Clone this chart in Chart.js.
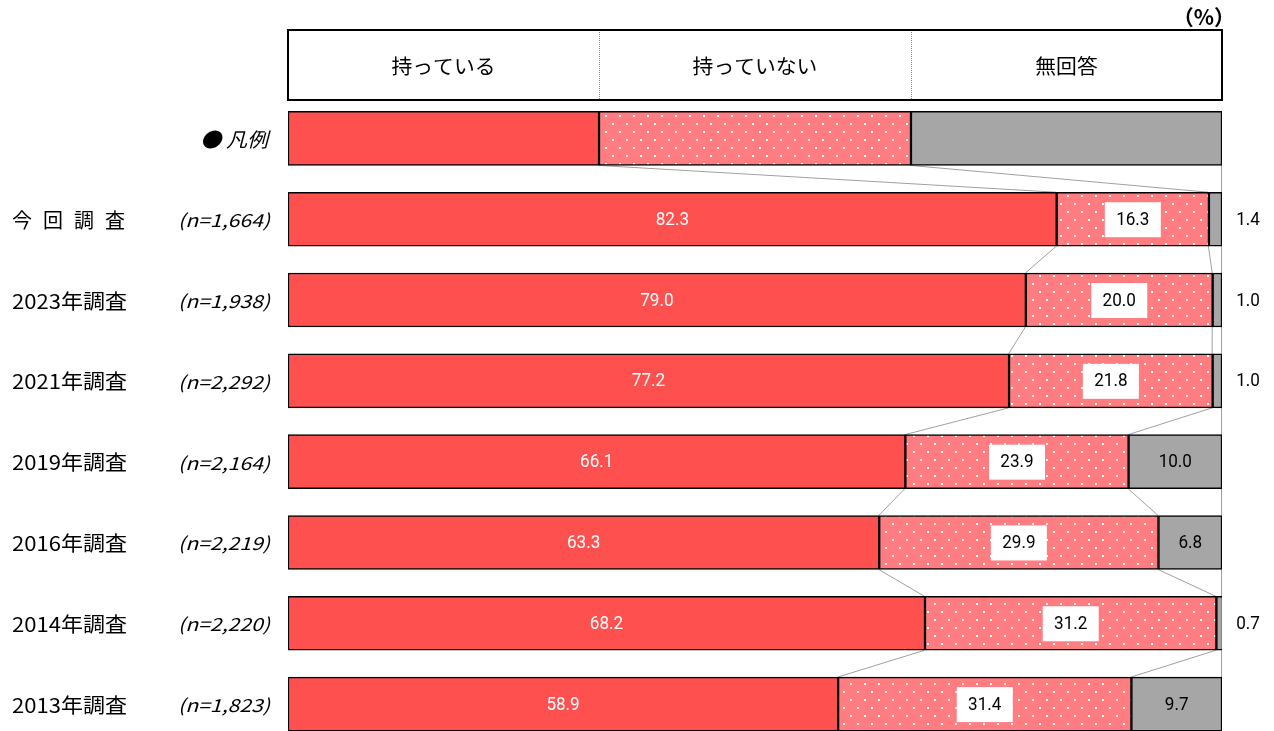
<!DOCTYPE html>
<html>
<head>
<meta charset="utf-8">
<script src="https://cdn.jsdelivr.net/npm/chart.js@4/dist/chart.umd.min.js"></script>
<style>
  html, body { margin: 0; padding: 0; background: #fff; overflow: hidden; }
  #wrap { width: 1274px; height: 760px; }
</style>
</head>
<body>
<div id="wrap"><canvas id="chart" width="1274" height="760"></canvas></div>
<script>
// rows (first row is the legend sample bar)
const rowLabels = ['● 凡例', '今 回 調 査', '2023年調査', '2021年調査', '2019年調査', '2016年調査', '2014年調査', '2013年調査'];
const sampleSizes = ['', '(n=1,664)', '(n=1,938)', '(n=2,292)', '(n=2,164)', '(n=2,219)', '(n=2,220)', '(n=1,823)'];
const seriesNames = ['持っている', '持っていない', '無回答'];

const haveValues     = [33.3, 82.3, 79.0, 77.2, 66.1, 63.3, 68.2, 58.9];
const notHaveValues  = [33.4, 16.3, 20.0, 21.8, 23.9, 29.9, 31.2, 31.4];
const noAnswerValues = [33.3, 1.4, 1.0, 1.0, 10.0, 6.8, 0.7, 9.7];

const RED = '#FF5050';
const PINK = '#FF7C80';
const GRAY = '#A6A6A6';
const JP = "'Noto Sans CJK JP', 'Noto Sans', sans-serif";
const NUM = "'Roboto', 'Liberation Sans', sans-serif";

// dotted pink fill
function dotPattern() {
    const c = document.createElement('canvas');
    c.width = 14; c.height = 16;
    const g = c.getContext('2d');
    g.fillStyle = PINK;
    g.fillRect(0, 0, 14, 16);
    g.fillStyle = '#ffffff';
    g.fillRect(3, 3, 2, 2);
    g.fillRect(10, 11, 2, 2);
    return g.createPattern(c, 'repeat');
}

// draw text squeezed/stretched horizontally by sx
function drawText(c, text, px, py, align, sx) {
    c.save();
    c.translate(px, py);
    c.scale(sx, 1);
    c.textAlign = align;
    c.fillText(text, 0, 0);
    c.restore();
}

// draw text stretched to span exactly [left, left+w]
function fitText(c, text, left, py, w) {
    const m = c.measureText(text).width;
    drawText(c, text, left, py, 'left', w / m);
}

const ctx = document.getElementById('chart').getContext('2d');

// header box, row labels, connectors and value labels
const decor = {
    id: 'decor',
    beforeDatasetsDraw(chart) {
        const c = chart.ctx, x = chart.scales.x, y = chart.scales.y;
        const half = 27;
        c.save();
        c.strokeStyle = '#a0a0a0';
        c.lineWidth = 1;
        for (let i = 0; i < rowLabels.length - 1; i++) {
            const a = [haveValues[i], haveValues[i] + notHaveValues[i], 100];
            const b = [haveValues[i + 1], haveValues[i + 1] + notHaveValues[i + 1], 100];
            const y0 = y.getPixelForValue(i) + half, y1 = y.getPixelForValue(i + 1) - half;
            for (let k = 0; k < 3; k++) {
                c.beginPath();
                c.moveTo(Math.min(x.getPixelForValue(a[k]), x.right) - 0.5, y0);
                c.lineTo(Math.min(x.getPixelForValue(b[k]), x.right) - 0.5, y1);
                c.stroke();
            }
        }
        c.restore();
    },
    afterDatasetsDraw(chart) {
        const c = chart.ctx, x = chart.scales.x, y = chart.scales.y;
        c.save();
        c.textBaseline = 'middle';

        // header
        const hTop = 30, hBot = 100;
        const bounds = [0, haveValues[0], haveValues[0] + notHaveValues[0], 100].map(v => x.getPixelForValue(v));
        c.fillStyle = '#fff';
        c.fillRect(bounds[0], hTop, bounds[3] - bounds[0], hBot - hTop);
        c.strokeStyle = '#888';
        c.lineWidth = 1;
        c.setLineDash([1, 1]);
        [bounds[1], bounds[2]].forEach(px => {
            c.beginPath(); c.moveTo(Math.round(px) + 0.5, hTop); c.lineTo(Math.round(px) + 0.5, hBot); c.stroke();
        });
        c.setLineDash([]);
        c.strokeStyle = '#000';
        c.lineWidth = 2;
        c.strokeRect(bounds[0], hTop, bounds[3] - bounds[0], hBot - hTop);
        c.fillStyle = '#000';
        c.font = '20px ' + JP;
        seriesNames.forEach((s, i) => drawText(c, s, (bounds[i] + bounds[i + 1]) / 2, (hTop + hBot) / 2 + 1, 'center', 1.04));
        c.font = 'bold 21px ' + JP;
        drawText(c, '（%）', 1235, 17, 'right', 1);

        // row labels
        rowLabels.forEach((lab, i) => {
            const py = y.getPixelForValue(i) + 1;
            c.fillStyle = '#000';
            if (i === 0) {
                c.font = 'italic 20px ' + JP;
                drawText(c, lab, 268, py, 'right', 1.05);
                return;
            }
            c.font = '20px ' + JP;
            if (lab.indexOf(' ') >= 0) {
                const chars = lab.split(' ');
                const w = c.measureText(chars[0]).width;
                const step = (125 - 12 - w) / (chars.length - 1);
                chars.forEach((ch, k) => drawText(c, ch, 12 + k * step, py, 'left', 1));
            } else {
                fitText(c, lab, 12, py, 115);
            }
            c.font = 'italic 18px ' + JP;
            fitText(c, sampleSizes[i], 178, py, 92);
        });

        // value labels
        c.font = '18px ' + NUM;
        const sx = 0.95;
        for (let i = 1; i < rowLabels.length; i++) {
            const py = y.getPixelForValue(i) + 1;
            const x0 = x.getPixelForValue(0);
            const x1 = x.getPixelForValue(haveValues[i]);
            const x2 = x.getPixelForValue(haveValues[i] + notHaveValues[i]);
            const x3 = x.right;
            c.fillStyle = '#fff';
            drawText(c, haveValues[i].toFixed(1), (x0 + x1) / 2, py, 'center', sx);
            const mx = (x1 + x2) / 2;
            c.fillRect(mx - 28, py - 18, 56, 35);
            c.fillStyle = '#000';
            drawText(c, notHaveValues[i].toFixed(1), mx, py, 'center', sx);
            if (noAnswerValues[i] >= 3) {
                drawText(c, noAnswerValues[i].toFixed(1), (x2 + x3) / 2, py, 'center', sx);
            } else {
                drawText(c, noAnswerValues[i].toFixed(1), x3 + 26, py, 'center', sx);
            }
        }
        c.restore();
    }
};

new Chart(ctx, {
    type: 'bar',
    data: {
        labels: rowLabels,
        datasets: [
            { label: seriesNames[0], data: haveValues, backgroundColor: RED },
            { label: seriesNames[1], data: notHaveValues, backgroundColor: dotPattern() },
            { label: seriesNames[2], data: noAnswerValues, backgroundColor: GRAY }
        ].map(d => Object.assign(d, { borderColor: '#000', borderWidth: 1.5, borderSkipped: false, barThickness: 54 }))
    },
    options: {
        indexAxis: 'y',
        responsive: false,
        animation: false,
        devicePixelRatio: 1,
        layout: { padding: { left: 288, right: 52, top: 98, bottom: 15.5 } },
        plugins: { legend: { display: false }, tooltip: { enabled: false } },
        scales: {
            x: { stacked: true, min: 0, max: 100, display: false },
            y: { stacked: true, display: false }
        }
    },
    plugins: [decor]
});
</script>
</body>
</html>
